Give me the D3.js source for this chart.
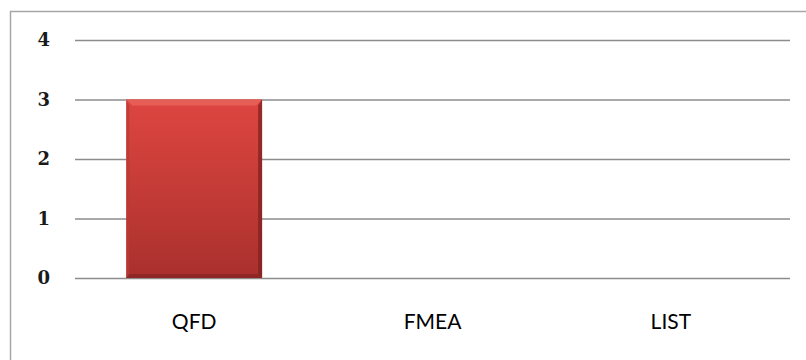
<!DOCTYPE html>
<html>
<head>
<meta charset="utf-8">
<script src="https://cdnjs.cloudflare.com/ajax/libs/d3/7.8.5/d3.min.js"></script>
<style>
  html, body { margin: 0; padding: 0; background: #fff; }
  svg { display: block; }
</style>
</head>
<body>
<svg id="chart" width="806" height="360"></svg>
<script>
// Chart data
const categories = ["QFD", "FMEA", "LIST"];
const values = [3, 0, 0];
const yTicks = [0, 1, 2, 3, 4];

const svg = d3.select("#chart");
const W = 806, H = 360;
const plot = { left: 75, right: 790, top: 40, bottom: 278 };

// Outer chart frame
svg.append("rect")
  .attr("x", 10.5).attr("y", 11.5)
  .attr("width", W).attr("height", H)
  .attr("fill", "#fff")
  .attr("stroke", "#a6a6a6")
  .attr("stroke-width", 1.5);

const x = d3.scaleBand()
  .domain(categories)
  .range([plot.left, plot.right])
  .paddingInner(0.43)
  .paddingOuter(0.215);

const y = d3.scaleLinear()
  .domain([0, 4])
  .range([plot.bottom, plot.top]);

// Gradient for the bevelled bar
const defs = svg.append("defs");
const grad = defs.append("linearGradient")
  .attr("id", "barGrad").attr("x1", 0).attr("y1", 0).attr("x2", 0).attr("y2", 1);
grad.append("stop").attr("offset", "0%").attr("stop-color", "#de4640");
grad.append("stop").attr("offset", "55%").attr("stop-color", "#c23a36");
grad.append("stop").attr("offset", "100%").attr("stop-color", "#a9302d");

// Horizontal gridlines
svg.append("g")
  .selectAll("line")
  .data(yTicks)
  .join("line")
  .attr("x1", plot.left).attr("x2", plot.right)
  .attr("y1", d => y(d) + 0.5).attr("y2", d => y(d) + 0.5)
  .attr("stroke", "#8c8c8c")
  .attr("stroke-width", 1.5);

// Y tick labels
svg.append("g")
  .selectAll("text")
  .data(yTicks)
  .join("text")
  .attr("x", 50)
  .attr("y", d => y(d))
  .attr("dy", "0.36em")
  .attr("text-anchor", "end")
  .attr("font-family", "'DejaVu Serif', serif")
  .attr("font-weight", "bold")
  .attr("font-size", 18)
  .attr("fill", "#1a1a1a")
  .text(d => d);

// Bars with bevel edges
const bars = svg.append("g")
  .selectAll("g")
  .data(categories.map((c, i) => ({ c, v: values[i] })).filter(d => d.v > 0))
  .join("g");

bars.append("rect")
  .attr("x", d => x(d.c))
  .attr("y", d => y(d.v))
  .attr("width", x.bandwidth())
  .attr("height", d => y(0) - y(d.v))
  .attr("fill", "url(#barGrad)");

// Top bevel highlight
bars.append("path")
  .attr("d", d => {
    const x0 = x(d.c), x1 = x0 + x.bandwidth(), t = y(d.v), b = 6;
    return `M${x0},${t}L${x1},${t}L${x1 - b},${t + b}L${x0 + b},${t + b}Z`;
  })
  .attr("fill", "#e9635c").attr("opacity", 0.85);

// Left bevel
bars.append("path")
  .attr("d", d => {
    const x0 = x(d.c), t = y(d.v), bot = y(0), b = 3;
    return `M${x0},${t}L${x0 + b},${t + 6}L${x0 + b},${bot - b}L${x0},${bot}Z`;
  })
  .attr("fill", "#b83a36").attr("opacity", 0.7);

// Right bevel (shadowed)
bars.append("path")
  .attr("d", d => {
    const x1 = x(d.c) + x.bandwidth(), t = y(d.v), bot = y(0), b = 4;
    return `M${x1},${t}L${x1 - b},${t + 6}L${x1 - b},${bot - b}L${x1},${bot}Z`;
  })
  .attr("fill", "#7d2220").attr("opacity", 0.75);

// Bottom bevel
bars.append("path")
  .attr("d", d => {
    const x0 = x(d.c), x1 = x0 + x.bandwidth(), bot = y(0), b = 4;
    return `M${x0},${bot}L${x0 + 3},${bot - b}L${x1 - 4},${bot - b}L${x1},${bot}Z`;
  })
  .attr("fill", "#8a2624").attr("opacity", 0.8);

// Category labels
svg.append("g")
  .selectAll("text")
  .data(categories)
  .join("text")
  .attr("x", d => x(d) + x.bandwidth() / 2)
  .attr("y", 329)
  .attr("text-anchor", "middle")
  .attr("font-family", "Lato, 'Open Sans', sans-serif")
  .attr("font-size", 21)
  .attr("fill", "#000")
  .text(d => d);
</script>
</body>
</html>
